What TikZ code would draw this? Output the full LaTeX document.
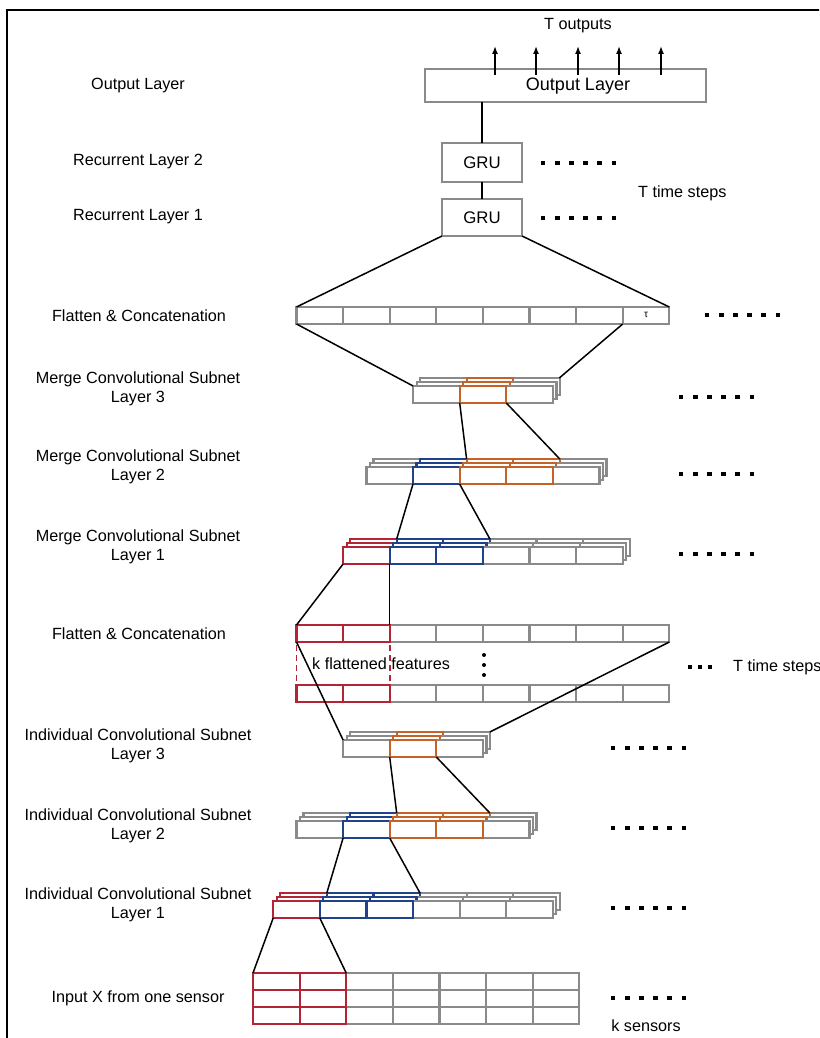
\documentclass[tikz,border=0pt]{standalone}
\usepackage{fontspec}
\setmainfont{Liberation Sans}
\usetikzlibrary{arrows.meta}
\definecolor{cgray}{RGB}{138,138,138}
\definecolor{cred}{RGB}{180,36,52}
\definecolor{cblue}{RGB}{32,66,140}
\definecolor{corange}{RGB}{196,98,40}
\newcommand\lblfont{\fontsize{16.2}{18.5}\selectfont}
\def\cw{46.6}
\def\ch{17}
% stack of three layers: x0, y(top of front), n cells, colored spec
\newcommand\cellstack[4]{%
  \foreach \l in {2,1,0}{%
    \begin{scope}[shift={(3.5*\l,-4*\l)}]
      \foreach \i in {1,...,#3} \draw[cell] ({#1+(\i-1)*\cw},#2) rectangle ++(\cw,\ch);
      \foreach \i/\c in {#4} \draw[cell,draw=\c] ({#1+\i*\cw},#2) rectangle ++(\cw,\ch);
    \end{scope}}}
\newcommand\sqdots[2]{\foreach \k in {0,...,5} \fill ({#1+\k*14.2-2.4},{#2-2.4}) rectangle ++(4.8,4.8);}
\begin{document}
\begin{tikzpicture}[x=1pt,y=-1pt,
  cell/.style={draw=cgray,fill=white,line width=2.2pt},
  conn/.style={draw=black,line width=1.5pt},
  lbl/.style={font=\lblfont,align=center,inner sep=0},
  gbox/.style={draw=cgray,line width=2.4pt,fill=white,inner sep=0,outer sep=0},
  arr/.style={draw=black,line width=1.5pt,-{Latex[length=8pt,width=6pt]}}]
\useasboundingbox (0,0) rectangle (819,1038);
\clip (0,0) rectangle (819,1038);
\draw[line width=2.8pt] (7,10) rectangle (850,1070);

% left labels
\node[lbl] (lout) at (138,86) {Output Layer};
\node[lbl] (lr2) at (138,162) {Recurrent Layer 2};
\node[lbl] (lr1) at (138,217) {Recurrent Layer 1};
\node[lbl] (lf1) at (139,316) {Flatten \& Concatenation};
\node[lbl] (lm3) at (138,389) {Merge Convolutional Subnet\\Layer 3};
\node[lbl] (lm2) at (138,467) {Merge Convolutional Subnet\\Layer 2};
\node[lbl] (lm1) at (138,547) {Merge Convolutional Subnet\\Layer 1};
\node[lbl] (lf2) at (139,634) {Flatten \& Concatenation};
\node[lbl] (li3) at (138,746) {Individual Convolutional Subnet\\Layer 3};
\node[lbl] (li2) at (138,826) {Individual Convolutional Subnet\\Layer 2};
\node[lbl] (li1) at (138,905) {Individual Convolutional Subnet\\Layer 1};
\node[lbl] (lin) at (138,998) {Input X from one sensor};

% output layer
\node[lbl] (tout) at (578,26) {T outputs};
\node[gbox,minimum width=281,minimum height=33] (outbox) at (565.5,85.5) {};
\node[font=\fontsize{18}{20}\selectfont,inner sep=0] (outtxt) at (578,86) {Output Layer};
\foreach \x [count=\n] in {495,536,578,619,661}{
  \coordinate (ab\n) at (\x,75);
  \coordinate (at\n) at (\x,46);
  \draw[arr] (ab\n) -- (at\n);
}

% GRUs
\node[gbox,minimum width=80,minimum height=39,font=\fontsize{16.8}{19}\selectfont] (gru2) at (482,162.5) {GRU};
\node[gbox,minimum width=80,minimum height=37,font=\fontsize{16.8}{19}\selectfont] (gru1) at (482,217.5) {GRU};
\draw[conn] (gru2.north |- outbox.south) -- (gru2.north);
\draw[conn] (gru2.south) -- (gru1.north);
\sqdots{543}{163}
\sqdots{543}{218}
\node[lbl,anchor=west] (tts1) at (638,193) {T time steps};

% top flatten bar
\foreach \i in {0,...,7} \draw[cell] ({296.5+\i*\cw},307) rectangle ++(\cw,\ch);
\node[font=\fontsize{10}{12}\selectfont,inner sep=0] (tau) at ({296.5+7.5*\cw},314.5) {τ};
\coordinate (fbTL) at (296.5,307);
\coordinate (fbTR) at (669.3,307);
\coordinate (fbBL) at (296.5,324);
\coordinate (fbB7) at (622.7,324);
\draw[conn] (gru1.south west) -- (fbTL);
\draw[conn] (gru1.south east) -- (fbTR);
\sqdots{707}{315}

% merge layer 3
\cellstack{413.1}{386}{3}{1/corange}
\coordinate (m3TL) at (413.1,386);
\coordinate (m3BR) at (559.3,378);
\draw[conn] (fbBL) -- (m3TL);
\draw[conn] (fbB7) -- (m3BR);
\sqdots{681}{397}
\coordinate (m3a) at (459.7,403);
\coordinate (m3b) at (506.3,403);

% merge layer 2
\cellstack{366.4}{467}{5}{1/cblue,2/corange,3/corange}
\coordinate (m2a) at (466.6,459);
\coordinate (m2b) at (559.8,459);
\draw[conn] (m3a) -- (m2a);
\draw[conn] (m3b) -- (m2b);
\sqdots{681}{474}
\coordinate (m2c) at (413.0,484);
\coordinate (m2d) at (459.6,484);

% merge layer 1
\cellstack{343.1}{547}{6}{0/cred,1/cblue,2/cblue}
\coordinate (m1a) at (396.7,539);
\coordinate (m1b) at (489.9,539);
\draw[conn] (m2c) -- (m1a);
\draw[conn] (m2d) -- (m1b);
\sqdots{681}{554}
\coordinate (m1c) at (343.1,564);
\coordinate (m1d) at (389.7,564);

% middle flatten
\foreach \yy in {625,685}{
  \foreach \i in {0,...,7} \draw[cell] ({296.5+\i*\cw},\yy) rectangle ++(\cw,\ch);
  \foreach \i in {0,1} \draw[cell,draw=cred] ({296.5+\i*\cw},\yy) rectangle ++(\cw,\ch);
}
\coordinate (f2TL) at (296.5,625);
\coordinate (f2T2) at (389.7,625);
\draw[conn] (m1c) -- (f2TL);
\draw[conn] (m1d) -- (f2T2);
\draw[cred,line width=1.8pt,dash pattern=on 6pt off 4pt] (296.5,645) -- (296.5,685);
\draw[cred,line width=1.8pt,dash pattern=on 6pt off 4pt] (389.7,645) -- (389.7,685);
\node[lbl,anchor=west] (kff) at (312,664) {k flattened features};
\foreach \yy in {655,665,675} \fill (484,\yy) circle (2);
\foreach \xx in {690,700,710} \fill (\xx-1.7,665.3) rectangle ++(3.4,3.4);
\node[lbl,anchor=west] (tts2) at (733,667) {T time steps};
\coordinate (f2BL) at (296.5,642);
\coordinate (f2BR) at (669.3,642);

% individual layer 3
\cellstack{343.1}{740}{3}{1/corange}
\coordinate (i3TL) at (343.1,740);
\coordinate (i3BR) at (489.9,732);
\draw[conn] (f2BL) -- (i3TL);
\draw[conn] (f2BR) -- (i3BR);
\sqdots{613}{748}
\coordinate (i3a) at (389.7,757);
\coordinate (i3b) at (436.3,757);

% individual layer 2
\cellstack{296.5}{821}{5}{1/cblue,2/corange,3/corange}
\coordinate (i2a) at (396.7,813);
\coordinate (i2b) at (489.9,813);
\draw[conn] (i3a) -- (i2a);
\draw[conn] (i3b) -- (i2b);
\sqdots{613}{828}
\coordinate (i2c) at (343.1,838);
\coordinate (i2d) at (389.7,838);

% individual layer 1
\cellstack{273.2}{901}{6}{0/cred,1/cblue,2/cblue}
\coordinate (i1a) at (326.8,893);
\coordinate (i1b) at (420.0,893);
\draw[conn] (i2c) -- (i1a);
\draw[conn] (i2d) -- (i1b);
\sqdots{613}{908}
\coordinate (i1c) at (273.2,918);
\coordinate (i1d) at (319.8,918);

% input grid
\foreach \r in {0,1,2}{
  \foreach \i in {0,...,6} \draw[cell] ({253+\i*\cw},{973+\r*\ch}) rectangle ++(\cw,\ch);
  \foreach \i in {0,1} \draw[cell,draw=cred] ({253+\i*\cw},{973+\r*\ch}) rectangle ++(\cw,\ch);
}
\coordinate (inA) at (253,973);
\coordinate (inB) at (346.2,973);
\draw[conn] (i1c) -- (inA);
\draw[conn] (i1d) -- (inB);
\sqdots{613}{998}
\node[lbl] (ks) at (646,1026) {k sensors};
\end{tikzpicture}
\end{document}
